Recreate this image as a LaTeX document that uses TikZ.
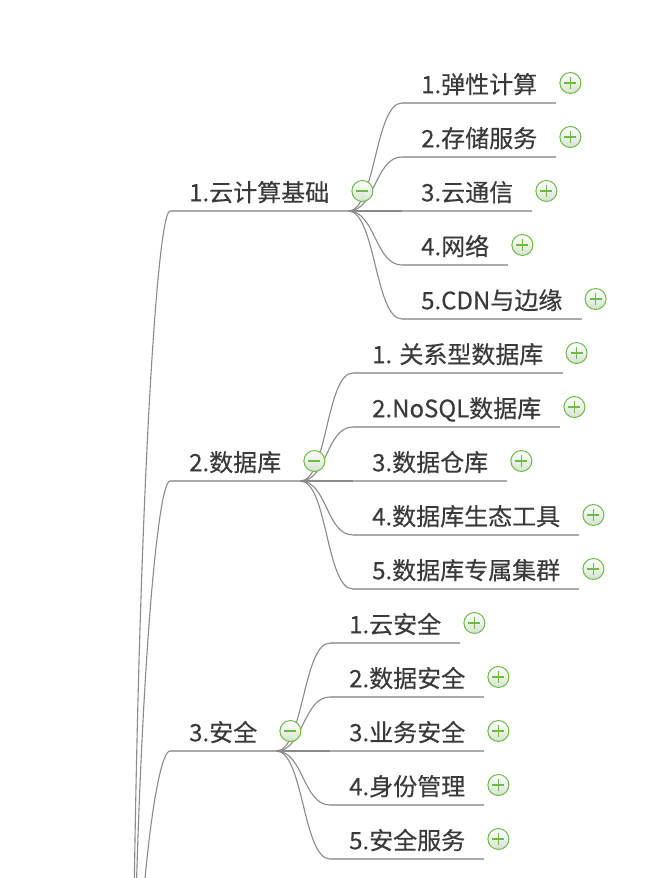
\documentclass[tikz,border=0pt]{standalone}
\usepackage{fontspec}
\setmainfont{Noto Sans CJK SC}
\newfontfamily\mapfont{Noto Sans CJK SC}[FakeBold=0.4]
\usepackage{xcolor}
\usepackage{tikz}
\usetikzlibrary{calc, positioning}

\definecolor{txtgray}{HTML}{3A3A3A}
\definecolor{linegray}{HTML}{8A8A8A}
\definecolor{rulegray}{HTML}{ABABAB}
\definecolor{btngreen}{HTML}{6DBB45}
\definecolor{btnfill}{HTML}{D5E2CF}

\tikzset{
    topic/.style={anchor=south west, inner xsep=19pt, inner ysep=9.5pt, text depth=0pt,
        text=txtgray, font=\mapfont\fontsize{24}{29}\selectfont},
    rule/.style={rulegray, line width=2pt},
    link/.style={linegray, line width=1.1pt},
    btn/.style={circle, draw=btngreen, line width=1pt, minimum size=21pt, inner sep=0pt,
        top color=white, bottom color=btnfill},
    plusbtn/.style={btn, path picture={
        \draw[btngreen, line width=1.4pt]
            ([xshift=-6pt]path picture bounding box.center) -- ([xshift=6pt]path picture bounding box.center)
            ([yshift=-6pt]path picture bounding box.center) -- ([yshift=6pt]path picture bounding box.center);}},
    minusbtn/.style={btn, path picture={
        \draw[btngreen, line width=1.4pt]
            ([xshift=-6pt]path picture bounding box.center) -- ([xshift=6pt]path picture bounding box.center);}}
}

\begin{document}
\begin{tikzpicture}[x=1pt, y=-1pt]

    % =================================================================
    % 1. KHUNG HÌNH
    % =================================================================
    \useasboundingbox (0,0) rectangle (664,878);

    % =================================================================
    % 2. NHÁNH CẤP 1
    % =================================================================
    \node[topic] (b1) at (170,211) {1.云计算基础};
    \node[topic] (b2) at (170,481) {2.数据库};
    \node[topic] (b3) at (170,751) {3.安全};

    % =================================================================
    % 3. NHÁNH CẤP 2
    % =================================================================
    \node[topic] (c11) at (402,103) {1.弹性计算};
    \node[topic] (c12) at (402,157) {2.存储服务};
    \node[topic] (c13) at (402,211) {3.云通信};
    \node[topic] (c14) at (402,265) {4.网络};
    \node[topic] (c15) at (402,319) {5.CDN与边缘};

    \node[topic] (c21) at (353,373) {1. 关系型数据库};
    \node[topic] (c22) at (353,427) {2.NoSQL数据库};
    \node[topic] (c23) at (353,481) {3.数据仓库};
    \node[topic] (c24) at (353,535) {4.数据库生态工具};
    \node[topic] (c25) at (353,589) {5.数据库专属集群};

    \node[topic] (c31) at (330,643) {1.云安全};
    \node[topic] (c32) at (330,697) {2.数据安全};
    \node[topic] (c33) at (330,751) {3.业务安全};
    \node[topic] (c34) at (330,805) {4.身份管理};
    \node[topic] (c35) at (330,859) {5.安全服务};

    % =================================================================
    % 4. ĐƯỜNG NỐI TỪ GỐC (NẰM NGOÀI KHUNG)
    % =================================================================
    \coordinate (root) at (132,1200);
    \begin{scope}
        \clip (0,0) rectangle (664,878);
        \draw[link] (root) .. controls +(0,-593) and +(-15,0) .. (b1.south west);
        \draw[link] (root) .. controls +(0,-431) and +(-15,0) .. (b2.south west);
        \draw[link] (root) .. controls +(0,-269) and +(-15,0) .. (b3.south west);
    \end{scope}

    % =================================================================
    % 5. ĐƯỜNG CONG VÀ GẠCH CHÂN
    % =================================================================
    \foreach \k in {1,...,5} {
        \draw[link] (b1.south east) .. controls +(27,0) and +(-27,0) .. (c1\k.south west);
        \draw[link] (b2.south east) .. controls +(27,0) and +(-27,0) .. (c2\k.south west);
        \draw[link] (b3.south east) .. controls +(27,0) and +(-27,0) .. (c3\k.south west);
    }
    \foreach \n in {b1,b2,b3,c11,c12,c13,c14,c15,c21,c22,c23,c24,c25,c31,c32,c33,c34,c35}
        \draw[rule] (\n.south west) -- (\n.south east);

    % =================================================================
    % 6. NÚT THU GỌN / MỞ RỘNG
    % =================================================================
    \foreach \n in {b1,b2,b3}
        \node[minusbtn] (m-\n) at ([xshift=14pt, yshift=20pt]\n.south east) {};
    \foreach \n in {c11,c12,c13,c14,c15,c21,c22,c23,c24,c25,c31,c32,c33,c34,c35}
        \node[plusbtn] (p-\n) at ([xshift=14pt, yshift=20pt]\n.south east) {};

\end{tikzpicture}
\end{document}
